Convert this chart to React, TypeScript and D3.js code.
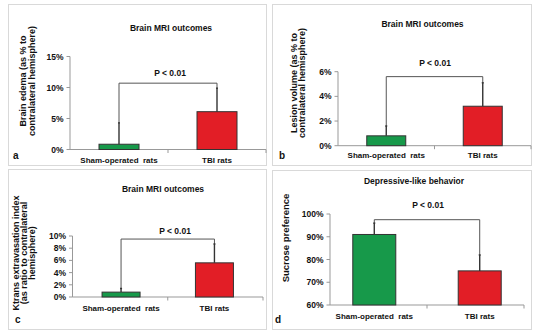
import React from "react";
import * as d3 from "d3";

const categories = ["Sham-operated  rats", "TBI rats"];
const panelLetters = ["a", "b", "c", "d"];
const panelTitles = ["Brain MRI outcomes", "Brain MRI outcomes", "Brain MRI outcomes", "Depressive-like behavior"];
const yTitles = [
  ["Brain edema (as % to", "contralateral hemisphere)"],
  ["Lesion volume (as % to", "contralateral hemisphere)"],
  ["Ktrans extravasation index", "(as ratio to contralateral", "hemisphere)"],
  ["Sucrose preference"],
];
const yDomains = [[0, 15], [0, 6], [0, 10], [60, 100]];
const yTickValues = [[0, 5, 10, 15], [0, 2, 4, 6], [0, 2, 4, 6, 8, 10], [60, 70, 80, 90, 100]];
const meanA = [0.85, 6.1];
const errA = [3.45, 3.8];
const meanB = [0.8, 3.2];
const errB = [0.8, 1.9];
const meanC = [0.8, 5.6];
const errC = [0.6, 3.1];
const meanD = [91, 75];
const errD = [5, 7];
const brackets = [10.7, 5.6, 9.5, 97.5];
const pLabel = "P < 0.01";

const GREEN = "#17994a";
const RED = "#e21e26";
const FONT = "'Liberation Sans', Arial, sans-serif";

type Layout = {
  box: [number, number, number, number];
  axisX: number;
  xEnd: number;
  pad: number;
  yRange: [number, number];
  barW: number;
  title: [number, number];
  pPos: [number, number];
  yTitleX: number[];
  yTitleY: number;
  yTitleSize: number;
  catY: number;
  letter: [number, number];
};

const layouts: Layout[] = [
  { box: [8.5, 4.5, 258, 161], axisX: 70, xEnd: 266, pad: 0.5, yRange: [149.5, 56.5], barW: 40, title: [171, 30.5], pPos: [170, 76], yTitleX: [26, 35], yTitleY: 81, yTitleSize: 9, catY: 162.5, letter: [13, 159] },
  { box: [272.5, 4.5, 259, 161], axisX: 338, xEnd: 531, pad: 0.5, yRange: [145.7, 71.7], barW: 39, title: [422.5, 27], pPos: [435, 66], yTitleX: [297, 305], yTitleY: 83, yTitleSize: 9, catY: 157.5, letter: [279, 159] },
  { box: [8.5, 169.5, 258, 160], axisX: 72.5, xEnd: 263, pad: 0.52, yRange: [297, 236], barW: 38, title: [163, 191.5], pPos: [175, 234], yTitleX: [19, 27, 35], yTitleY: 253, yTitleSize: 9, catY: 310.5, letter: [15, 323] },
  { box: [272.5, 170.5, 259, 159], axisX: 330, xEnd: 524, pad: 0.42, yRange: [305, 214], barW: 43, title: [414, 184], pPos: [428, 208], yTitleX: [288.5], yTitleY: 238, yTitleSize: 9.5, catY: 318.5, letter: [275, 323] },
];

const means = [meanA, meanB, meanC, meanD];
const errs = [errA, errB, errC, errD];
const colors = [GREEN, RED];

function Panel({ i }: { i: number }) {
  const L = layouts[i];
  const x = d3.scalePoint<string>().domain(categories).range([L.axisX, L.xEnd]).padding(L.pad);
  const y = d3.scaleLinear().domain(yDomains[i]).range(L.yRange);
  const y0 = y(yDomains[i][0]);
  const yTop = y(yDomains[i][1]);
  const m = means[i];
  const e = errs[i];
  const bY = y(brackets[i]);
  const mid = (x(categories[0])! + x(categories[1])!) / 2;
  const tickFmt = (v: number) => `${v}%`;
  return (
    <g fontFamily={FONT} fontWeight="bold" fill="#111">
      <rect x={L.box[0]} y={L.box[1]} width={L.box[2]} height={L.box[3]} fill="white" stroke="#d9d9d9" strokeWidth={1} />
      <text x={L.title[0]} y={L.title[1]} textAnchor="middle" fontSize={8.5}>{panelTitles[i]}</text>
      {/* y axis */}
      <line x1={L.axisX} x2={L.axisX} y1={y0} y2={yTop} stroke="#999" strokeWidth={1} />
      {yTickValues[i].map((v) => (
        <g key={v}>
          <line x1={L.axisX - 3.5} x2={L.axisX} y1={y(v)} y2={y(v)} stroke="#999" strokeWidth={1} />
          <text x={L.axisX - 6.5} y={y(v) + 3} textAnchor="end" fontSize={8.5}>{tickFmt(v)}</text>
        </g>
      ))}
      {/* x axis */}
      <line x1={L.axisX} x2={L.xEnd} y1={y0} y2={y0} stroke="#999" strokeWidth={1} />
      <line x1={mid} x2={mid} y1={y0} y2={y0 + 3.5} stroke="#999" strokeWidth={1} />
      <line x1={L.xEnd} x2={L.xEnd} y1={y0} y2={y0 + 3.5} stroke="#999" strokeWidth={1} />
      {/* bars */}
      {categories.map((c, k) => (
        <rect key={c} x={x(c)! - L.barW / 2} y={y(m[k])} width={L.barW} height={y0 - y(m[k])} fill={colors[k]} stroke="#333" strokeWidth={1} />
      ))}
      {/* bracket legs */}
      {categories.map((c, k) => (
        <line key={"b" + c} x1={x(c)!} x2={x(c)!} y1={bY} y2={y(m[k] + e[k])} stroke="#555" strokeWidth={1} />
      ))}
      <line x1={x(categories[0])!} x2={x(categories[1])!} y1={bY} y2={bY} stroke="#555" strokeWidth={1} />
      {/* error bars */}
      {categories.map((c, k) => (
        <g key={"e" + c}>
          <line x1={x(c)!} x2={x(c)!} y1={y(m[k])} y2={y(m[k] + e[k])} stroke="#333" strokeWidth={1.4} />
          <line x1={x(c)! - 1} x2={x(c)! + 1} y1={y(m[k] + e[k])} y2={y(m[k] + e[k])} stroke="#333" strokeWidth={1.4} />
        </g>
      ))}
      <text x={L.pPos[0]} y={L.pPos[1]} textAnchor="middle" fontSize={8.5}>{pLabel}</text>
      {/* category labels */}
      {categories.map((c) => (
        <text key={"l" + c} x={x(c)!} y={L.catY} textAnchor="middle" fontSize={8} style={{ whiteSpace: "pre" }}>{c}</text>
      ))}
      {/* y title */}
      {yTitles[i].map((t, k) => (
        <text key={t} transform={`translate(${L.yTitleX[k]},${L.yTitleY}) rotate(-90)`} textAnchor="middle" fontSize={L.yTitleSize}>{t}</text>
      ))}
      <text x={L.letter[0]} y={L.letter[1]} fontSize={10}>{panelLetters[i]}</text>
    </g>
  );
}

export default function App() {
  return (
    <svg width={540} height={332} style={{ position: "absolute", left: 0, top: 0, background: "white" }}>
      <rect x={0} y={0} width={540} height={332} fill="white" />
      {[0, 1, 2, 3].map((i) => (
        <Panel key={i} i={i} />
      ))}
    </svg>
  );
}
